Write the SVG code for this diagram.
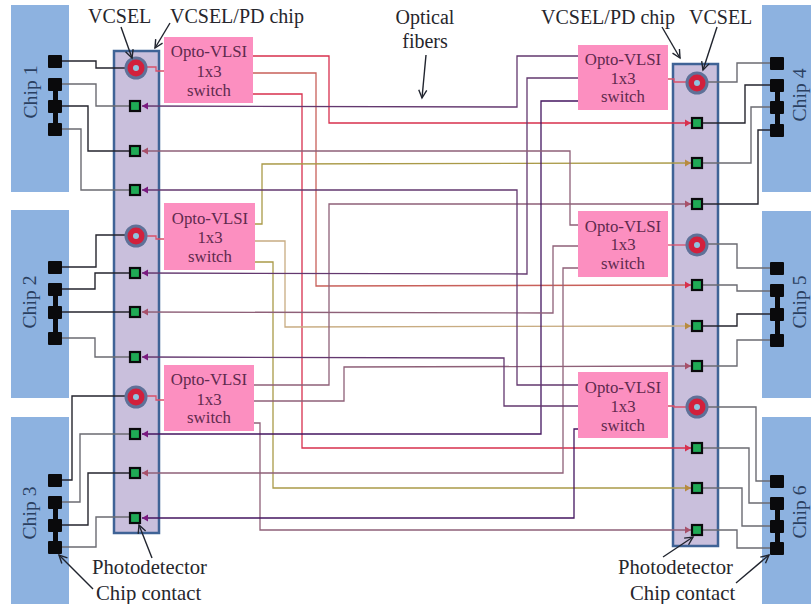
<svg xmlns="http://www.w3.org/2000/svg" width="811" height="604" viewBox="0 0 811 604">
<style>
text{font-family:"Liberation Serif","Times New Roman",serif;fill:#26262c}
.lbl{font-size:20px}
.lg{font-size:20.7px}
.chipt{font-size:19.7px;fill:#2a3f60;text-anchor:middle}
.swt{font-size:16.8px;fill:#5f2a4e;text-anchor:middle}
.blk{fill:#8db2e0}
.sub{fill:#c9bfdc;stroke:#3f6396;stroke-width:2.5}
.box{fill:#fc8fc0}
.w,.f{fill:none}
.w{stroke-width:1.4}
.wd{stroke:#25252e}
.wg{stroke:#6b6b72}
.f{stroke-width:1.3}
.r{stroke:#d8304e;marker-end:url(#mr)}
.o{stroke:#c8605a;marker-end:url(#mr)}
.y{stroke:#aa9a48;marker-end:url(#my)}
.t{stroke:#c8ac82;marker-end:url(#my)}
.p{stroke:#63386f;marker-end:url(#mp)}
.d{stroke:#441660;marker-end:url(#mp)}
.m{stroke:#8e6078;marker-end:url(#mm)}
.l{stroke:#d8506a;fill:none;stroke-width:1.3}
.an{stroke:#20242e;stroke-width:1.4;fill:none;marker-end:url(#ma)}
.c{fill:#0a0a0c}
.pd{fill:#1faa55;stroke:#0a0a0c;stroke-width:2.2}
</style>
<defs>
<marker id="mr" markerUnits="userSpaceOnUse" markerWidth="7" markerHeight="8" refX="6" refY="4" orient="auto"><path d="M0 .5L6 4L0 7.5z" fill="#d8304e"/></marker>
<marker id="my" markerUnits="userSpaceOnUse" markerWidth="7" markerHeight="8" refX="6" refY="4" orient="auto"><path d="M0 .5L6 4L0 7.5z" fill="#b88a40"/></marker>
<marker id="mp" markerUnits="userSpaceOnUse" markerWidth="7" markerHeight="8" refX="6" refY="4" orient="auto"><path d="M0 .5L6 4L0 7.5z" fill="#7a1a80"/></marker>
<marker id="mm" markerUnits="userSpaceOnUse" markerWidth="7" markerHeight="8" refX="6" refY="4" orient="auto"><path d="M0 .5L6 4L0 7.5z" fill="#a8506a"/></marker>
<marker id="ma" markerUnits="userSpaceOnUse" markerWidth="12" markerHeight="12" refX="9" refY="5" orient="auto"><path d="M1 1L9 5L1 9" fill="none" stroke="#20242e" stroke-width="1.4"/></marker>
<g id="vc"><circle r="11.5" fill="#5f7198"/><circle r="8.5" fill="#d2203c"/><circle r="3" fill="#8fc4e0"/></g>
</defs>

<g id="chip-blocks">
<g id="chip1"><rect class="blk" x="11" y="5" width="58" height="187"/><text class="chipt" transform="translate(37 92) rotate(-90)">Chip 1</text></g>
<g id="chip2"><rect class="blk" x="11" y="210" width="58" height="188"/><text class="chipt" transform="translate(36 302) rotate(-90)">Chip 2</text></g>
<g id="chip3"><rect class="blk" x="11" y="417" width="58" height="187"/><text class="chipt" transform="translate(36 513) rotate(-90)">Chip 3</text></g>
<g id="chip4"><rect class="blk" x="762" y="5" width="49" height="187"/><text class="chipt" transform="translate(806 95) rotate(-90)">Chip 4</text></g>
<g id="chip5"><rect class="blk" x="762" y="211" width="49" height="187"/><text class="chipt" transform="translate(806 302) rotate(-90)">Chip 5</text></g>
<g id="chip6"><rect class="blk" x="762" y="417" width="49" height="187"/><text class="chipt" transform="translate(806 512) rotate(-90)">Chip 6</text></g>
</g>

<g id="pd-chip-left"><rect class="sub" x="114" y="51" width="45" height="482"/></g>
<g id="pd-chip-right"><rect class="sub" x="673" y="64" width="45" height="482"/></g>

<g id="connectors">
<polyline class="w wd" points="62,61 96,61 96,68 125,68"/>
<polyline class="w wg" points="62,84 96,84 96,106 130,106"/>
<polyline class="w wd" points="62,106 88,106 88,151 130,151"/>
<polyline class="w wg" points="62,129 81,129 81,190 130,190"/>
<polyline class="w wd" points="62,267 96,267 96,235 125,235"/>
<polyline class="w wd" points="62,289 95,289 95,273 130,273"/>
<polyline class="w wd" points="62,312 130,312"/>
<polyline class="w wg" points="62,338 95,338 95,357 130,357"/>
<polyline class="w wd" points="62,480 72,480 72,396 125,396"/>
<polyline class="w wg" points="62,502 80,502 80,434 130,434"/>
<polyline class="w wd" points="62,525 88,525 88,473 130,473"/>
<polyline class="w wg" points="62,547 96,547 96,517 130,517"/>
<polyline class="w wg" points="708,82 737,82 737,63 770,63"/>
<polyline class="w wd" points="702,123 745,123 745,85 770,85"/>
<polyline class="w wg" points="702,163 751,163 751,107 770,107"/>
<polyline class="w wd" points="702,204 758,204 758,130 770,130"/>
<polyline class="w wg" points="708,244 737,244 737,268 770,268"/>
<polyline class="w wg" points="702,285 737,285 737,291 770,291"/>
<polyline class="w wd" points="702,326 737,326 737,314 770,314"/>
<polyline class="w wg" points="702,366 737,366 737,340 770,340"/>
<polyline class="w wg" points="708,407 756,407 756,481 770,481"/>
<polyline class="w wg" points="702,448 749,448 749,503 770,503"/>
<polyline class="w wg" points="702,488 742,488 742,526 770,526"/>
<polyline class="w wg" points="702,530 737,530 737,548 770,548"/>

<polyline class="f r" points="253,56 329,56 329,123 691,123"/>
<polyline class="f o" points="253,73 316,73 316,286 691,285"/>
<polyline class="f r" points="253,94 302,94 302,448 691,448"/>
<polyline class="f y" points="255,224 262,224 262,164 691,163"/>
<polyline class="f t" points="255,241 285,241 285,327 691,326"/>
<polyline class="f y" points="255,262 273,262 273,488 691,488"/>
<polyline class="f m" points="254,385 329,385 329,204 691,204"/>
<polyline class="f m" points="254,401 344,401 344,367 691,366"/>
<polyline class="f m" points="254,423 260,423 260,530 691,530"/>
<polyline class="f p" points="578,56 517,56 517,107 142,106"/>
<polyline class="f p" points="578,78 527,78 527,274 142,273"/>
<polyline class="f d" points="578,101 541,101 541,434 142,434"/>
<polyline class="f m" points="578,225 570,225 570,151 142,151"/>
<polyline class="f m" points="578,246 553,246 553,313 142,312"/>
<polyline class="f m" points="578,268 563,268 563,473 142,473"/>
<polyline class="f p" points="578,385 517,385 517,190 142,190"/>
<polyline class="f p" points="578,406 504,406 504,358 142,357"/>
<polyline class="f d" points="578,429 574,429 574,518 142,518"/>

<polyline class="l" points="147,67 156,67 156,71 164,71"/>
<polyline class="l" points="147,236 156,236 156,239 164,239"/>
<polyline class="l" points="147,396 156,396 156,400 164,400"/>
<polyline class="l" points="668,79 674,79 674,82 686,82"/>
<polyline class="l" points="668,245 686,245"/>
<polyline class="l" points="668,406 674,406 674,407 686,407"/>
</g>

<g id="contacts-1"><rect class="c" x="53" y="84" width="5" height="45"/><rect class="c" x="48" y="55" width="14" height="13" rx="1"/><rect class="c" x="48" y="78" width="14" height="13" rx="1"/><rect class="c" x="48" y="100" width="14" height="13" rx="1"/><rect class="c" x="48" y="123" width="14" height="13" rx="1"/></g>
<g id="contacts-2"><rect class="c" x="53" y="289" width="5" height="49"/><rect class="c" x="48" y="261" width="14" height="13" rx="1"/><rect class="c" x="48" y="283" width="14" height="13" rx="1"/><rect class="c" x="48" y="306" width="14" height="13" rx="1"/><rect class="c" x="48" y="332" width="14" height="13" rx="1"/></g>
<g id="contacts-3"><rect class="c" x="53" y="502" width="5" height="45"/><rect class="c" x="48" y="474" width="14" height="13" rx="1"/><rect class="c" x="48" y="496" width="14" height="13" rx="1"/><rect class="c" x="48" y="519" width="14" height="13" rx="1"/><rect class="c" x="48" y="541" width="14" height="13" rx="1"/></g>
<g id="contacts-4"><rect class="c" x="775" y="85" width="5" height="45"/><rect class="c" x="770" y="57" width="14" height="13" rx="1"/><rect class="c" x="770" y="79" width="14" height="13" rx="1"/><rect class="c" x="770" y="101" width="14" height="13" rx="1"/><rect class="c" x="770" y="124" width="14" height="13" rx="1"/></g>
<g id="contacts-5"><rect class="c" x="775" y="290" width="5" height="50"/><rect class="c" x="770" y="262" width="14" height="13" rx="1"/><rect class="c" x="770" y="284" width="14" height="13" rx="1"/><rect class="c" x="770" y="308" width="14" height="13" rx="1"/><rect class="c" x="770" y="334" width="14" height="13" rx="1"/></g>
<g id="contacts-6"><rect class="c" x="775" y="503" width="5" height="45"/><rect class="c" x="770" y="475" width="14" height="13" rx="1"/><rect class="c" x="770" y="497" width="14" height="13" rx="1"/><rect class="c" x="770" y="520" width="14" height="13" rx="1"/><rect class="c" x="770" y="542" width="14" height="13" rx="1"/></g>

<g id="vcsel-l1"><use href="#vc" x="136" y="68"/></g>
<g id="vcsel-l2"><use href="#vc" x="136" y="236"/></g>
<g id="vcsel-l3"><use href="#vc" x="136" y="397"/></g>
<g id="vcsel-r1"><use href="#vc" x="697" y="83"/></g>
<g id="vcsel-r2"><use href="#vc" x="697" y="245"/></g>
<g id="vcsel-r3"><use href="#vc" x="697" y="407"/></g>

<g id="pds-left">
<rect class="pd" x="130" y="101" width="10" height="10"/><rect class="pd" x="130" y="146" width="10" height="10"/><rect class="pd" x="130" y="185" width="10" height="10"/>
<rect class="pd" x="130" y="268" width="10" height="10"/><rect class="pd" x="130" y="307" width="10" height="10"/><rect class="pd" x="130" y="352" width="10" height="10"/>
<rect class="pd" x="130" y="429" width="10" height="10"/><rect class="pd" x="130" y="468" width="10" height="10"/><rect class="pd" x="130" y="513" width="10" height="10"/>
</g>
<g id="pds-right">
<rect class="pd" x="692" y="118" width="10" height="10"/><rect class="pd" x="692" y="158" width="10" height="10"/><rect class="pd" x="692" y="199" width="10" height="10"/>
<rect class="pd" x="692" y="280" width="10" height="10"/><rect class="pd" x="692" y="321" width="10" height="10"/><rect class="pd" x="692" y="361" width="10" height="10"/>
<rect class="pd" x="692" y="443" width="10" height="10"/><rect class="pd" x="692" y="483" width="10" height="10"/><rect class="pd" x="692" y="525" width="10" height="10"/>
</g>

<g id="switch-l1"><rect class="box" x="164" y="37" width="89" height="66"/><text class="swt" x="209" y="57">Opto-VLSI</text><text class="swt" x="209" y="77">1x3</text><text class="swt" x="209" y="96">switch</text></g>
<g id="switch-l2"><rect class="box" x="164" y="203" width="91" height="67"/><text class="swt" x="210" y="224">Opto-VLSI</text><text class="swt" x="210" y="243">1x3</text><text class="swt" x="210" y="262">switch</text></g>
<g id="switch-l3"><rect class="box" x="164" y="365" width="90" height="66"/><text class="swt" x="209" y="385">Opto-VLSI</text><text class="swt" x="209" y="405">1x3</text><text class="swt" x="209" y="423">switch</text></g>
<g id="switch-r1"><rect class="box" x="578" y="45" width="90" height="65"/><text class="swt" x="623" y="65">Opto-VLSI</text><text class="swt" x="623" y="84">1x3</text><text class="swt" x="623" y="102">switch</text></g>
<g id="switch-r2"><rect class="box" x="578" y="211" width="90" height="66"/><text class="swt" x="623" y="232">Opto-VLSI</text><text class="swt" x="623" y="250">1x3</text><text class="swt" x="623" y="269">switch</text></g>
<g id="switch-r3"><rect class="box" x="578" y="372" width="90" height="66"/><text class="swt" x="623" y="393">Opto-VLSI</text><text class="swt" x="623" y="412">1x3</text><text class="swt" x="623" y="431">switch</text></g>

<g id="annotations">
<text class="lbl" x="88" y="23">VCSEL</text>
<text class="lbl" x="170" y="23">VCSEL/PD chip</text>
<text class="lbl" x="425" y="24" text-anchor="middle">Optical</text>
<text class="lbl" x="425" y="48" text-anchor="middle">fibers</text>
<text class="lbl" x="541" y="24">VCSEL/PD chip</text>
<text class="lbl" x="689" y="24">VCSEL</text>
<text class="lg" x="92" y="574">Photodetector</text>
<text class="lg" x="96" y="600">Chip contact</text>
<text class="lg" x="618" y="574">Photodetector</text>
<text class="lg" x="630" y="600">Chip contact</text>
<line class="an" x1="121" y1="27" x2="132" y2="58"/>
<line class="an" x1="170" y1="23" x2="155" y2="48"/>
<line class="an" x1="426" y1="55" x2="422" y2="98"/>
<line class="an" x1="662" y1="27" x2="680" y2="58"/>
<line class="an" x1="717" y1="27" x2="703" y2="70"/>
<line class="an" x1="152" y1="558" x2="139" y2="525"/>
<line class="an" x1="93" y1="589" x2="59" y2="555"/>
<line class="an" x1="663" y1="557" x2="693" y2="537"/>
<line class="an" x1="736" y1="583" x2="769" y2="555"/>
</g>
</svg>
